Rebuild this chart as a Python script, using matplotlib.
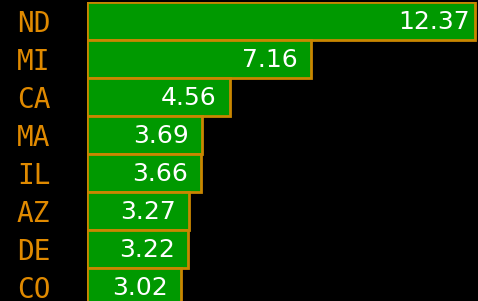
import matplotlib
matplotlib.use("Agg")
import matplotlib.pyplot as plt

# data
states = ["ND", "MI", "CA", "MA", "IL", "AZ", "DE", "CO"]
values = [12.37, 7.16, 4.56, 3.69, 3.66, 3.27, 3.22, 3.02]

W, H = 478, 301
fig = plt.figure(figsize=(W / 100, H / 100), dpi=100, facecolor="black")

# axes placed in pixel terms
left_px, top_px = 86.5, 2
ax = fig.add_axes([left_px / W, 0, (W - left_px) / W, (H - top_px) / H])
ax.set_facecolor("black")

bar_px = 38.0
xmax = values[0] * (W - left_px) / (475 - left_px)
ax.set_xlim(0, xmax)
ax.set_ylim(-0.5 + (H - top_px) / bar_px, -0.5)

pos = list(range(len(states)))
ax.barh(pos, values, height=1.0, color="#009900", edgecolor="#c98600", linewidth=2)

px = xmax / (W - left_px)  # data units per pixel
for p, v in zip(pos, values):
    ax.text(v - 41 * px, p + 0.03, f"{v:.2f}", ha="center", va="center", color="white",
            fontsize=18, family="DejaVu Sans")

ax.set_yticks(pos)
ax.set_yticklabels(states, family="DejaVu Sans Mono", fontsize=20, color="#e08a00")
ax.tick_params(axis="y", length=0, pad=26)
ax.set_xticks([])
for s in ax.spines.values():
    s.set_visible(False)

fig.savefig("out.png", dpi=100, facecolor="black")
